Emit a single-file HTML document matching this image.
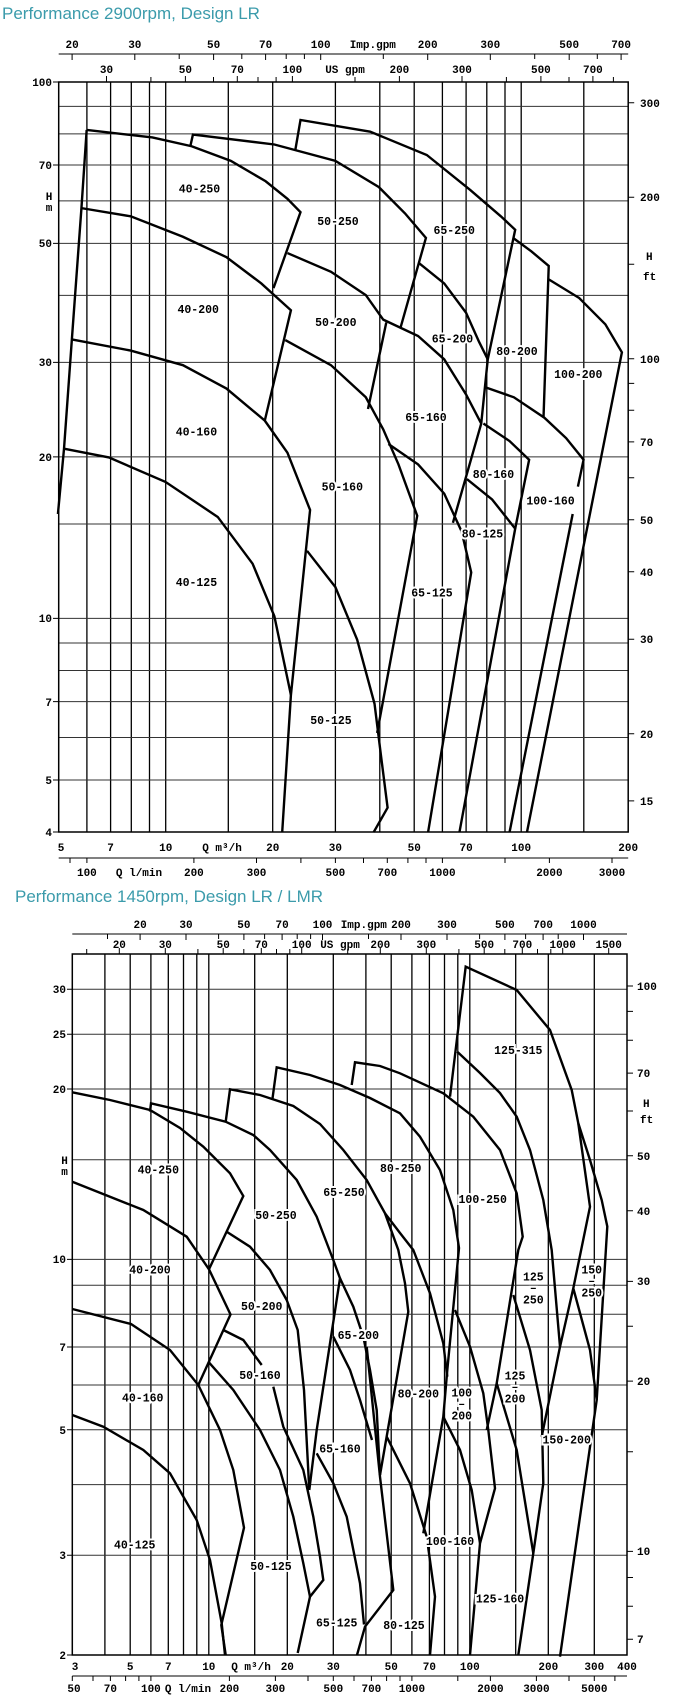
<!DOCTYPE html>
<html><head><meta charset="utf-8"><style>
html,body{margin:0;padding:0;background:#fff;}
svg{display:block;}
.t{font-family:"Liberation Mono",monospace;font-weight:bold;font-size:11px;fill:#000;}
.l{font-family:"Liberation Mono",monospace;font-weight:bold;font-size:11.5px;fill:#000;stroke:#fff;stroke-width:4px;paint-order:stroke;text-anchor:middle;dominant-baseline:central;}
.ttl{font-family:"Liberation Sans",sans-serif;font-size:17px;fill:#3b9bab;}
.gv{stroke:#000;stroke-width:1.3;}
.gh{stroke:#333;stroke-width:1;}
.c{fill:none;stroke:#000;stroke-width:2.4;stroke-linejoin:miter;vector-effect:non-scaling-stroke;}
.c2{fill:none;stroke:#000;stroke-width:2.4;stroke-linejoin:miter;}
</style></head><body>
<svg width="685" height="1701" viewBox="0 0 685 1701" xmlns="http://www.w3.org/2000/svg">
<text class="ttl" x="2" y="19">Performance 2900rpm, Design LR</text>
<text class="ttl" x="15" y="902">Performance 1450rpm, Design LR / LMR</text>

<!-- ============ CHART 1 ============ -->
<g>
<path class="gv" d="M86.9 82V832M110.6 82V832M131.3 82V832M149.5 82V832M165.7 82V832M228.3 82V832M272.7 82V832M335.4 82V832M379.8 82V832M414.2 82V832M442.4 82V832M466.1 82V832M486.8 82V832M505 82V832M521.2 82V832M583.8 82V832"/>
<path class="gh" d="M58.7 106.4H628.2M58.7 133.9H628.2M58.7 165H628.2M58.7 200.9H628.2M58.7 243.4H628.2M58.7 295.4H628.2M58.7 362.4H628.2M58.7 456.9H628.2M58.7 524H628.2M58.7 618.4H628.2M58.7 643H628.2M58.7 670.5H628.2M58.7 701.6H628.2M58.7 737.5H628.2M58.7 780H628.2"/>
<rect x="58.7" y="82" width="569.5" height="750" fill="none" stroke="#000" stroke-width="1.5"/>
<!-- left ticks -->
<path stroke="#000" stroke-width="1" d="M53 82H58.7M53 165H58.7M53 243.4H58.7M53 362.4H58.7M53 456.9H58.7M53 618.4H58.7M53 701.6H58.7M53 780H58.7M53 832H58.7"/>
<g class="t" text-anchor="end">
<text x="52" y="86">100</text><text x="52" y="169">70</text><text x="52" y="247">50</text><text x="52" y="366">30</text><text x="52" y="461">20</text><text x="52" y="622">10</text><text x="52" y="706">7</text><text x="52" y="784">5</text><text x="52" y="836">4</text>
</g>
<text class="t" x="49" y="200" text-anchor="middle">H</text><text class="t" x="49" y="211" text-anchor="middle">m</text>
<!-- right ticks -->
<path stroke="#000" stroke-width="1" d="M628.2 102.7h6M628.2 197.2h6M628.2 264.3h6M628.2 358.7h6M628.2 383.4h6M628.2 410.2h6M628.2 441.9h6M628.2 477.8h6M628.2 519.8h6M628.2 571.8h6M628.2 639.3h6M628.2 733.7h6M628.2 800.9h6"/>
<g class="t">
<text x="640" y="107">300</text><text x="640" y="201">200</text><text x="640" y="363">100</text><text x="640" y="446">70</text><text x="640" y="524">50</text><text x="640" y="576">40</text><text x="640" y="643">30</text><text x="640" y="738">20</text><text x="640" y="805">15</text>
<text x="646" y="260">H</text><text x="643" y="280">ft</text>
</g>
<!-- top axes -->
<path stroke="#000" stroke-width="1" d="M58.7 54H628.2M72.1 54v6M134.8 54v6M179.2 54v5M213.6 54v6M241.8 54v5M265.6 54v6M286.2 54v5M304.4 54v5M320.7 54v6M383.3 54v5M427.7 54v6M490.3 54v6M534.7 54v5M569.2 54v6M597.3 54v5M621.1 54v6"/>
<path stroke="#000" stroke-width="1" d="M106.5 82v-6M150.9 82v-5M185.4 82v-6M213.5 82v-5M237.3 82v-6M258 82v-5M276.1 82v-5M292.4 82v-6M355 82v-5M399.4 82v-6M462 82v-6M506.4 82v-5M540.9 82v-6M569 82v-5M592.9 82v-6M613.4 82v-5"/>
<g class="t" text-anchor="middle">
<text x="72.1" y="48">20</text><text x="134.8" y="48">30</text><text x="213.6" y="48">50</text><text x="265.6" y="48">70</text><text x="320.7" y="48">100</text><text x="372.8" y="48">Imp.gpm</text><text x="427.7" y="48">200</text><text x="490.3" y="48">300</text><text x="569.2" y="48">500</text><text x="621.1" y="48">700</text>
<text x="106.5" y="73">30</text><text x="185.4" y="73">50</text><text x="237.3" y="73">70</text><text x="292.4" y="73">100</text><text x="345" y="73">US gpm</text><text x="399.4" y="73">200</text><text x="462" y="73">300</text><text x="540.9" y="73">500</text><text x="592.9" y="73">700</text>
</g>
<!-- bottom axes -->
<g class="t" text-anchor="middle">
<text x="61" y="851">5</text><text x="110.6" y="851">7</text><text x="165.7" y="851">10</text><text x="222" y="851">Q m³/h</text><text x="272.7" y="851">20</text><text x="335.4" y="851">30</text><text x="414.2" y="851">50</text><text x="466.1" y="851">70</text><text x="521.2" y="851">100</text><text x="628.2" y="851">200</text>
</g>
<path stroke="#000" stroke-width="1" d="M58.7 858H628.2M70 858v5M86.9 858v5M193.9 858v5M256.5 858v5M300.9 858v5M335.4 858v5M363.5 858v5M387.3 858v5M407.9 858v5M426 858v5M442.4 858v5M505 858v5M549.4 858v5M612 858v5"/>
<g class="t" text-anchor="middle">
<text x="86.9" y="876">100</text><text x="139" y="876">Q l/min</text><text x="193.9" y="876">200</text><text x="256.5" y="876">300</text><text x="335.4" y="876">500</text><text x="387.3" y="876">700</text><text x="442.4" y="876">1000</text><text x="549.4" y="876">2000</text><text x="612" y="876">3000</text>
</g>
<!-- curves (zoom coords) -->
<g transform="matrix(0.4355,0,0,0.5838,0,-14.3)">
<polyline class="c" points="133,905 147,793 165,606 187,381 199,247"/>
<polyline class="c" points="199,247 350,260 440,275 530,300 610,335 660,365 690,388 628,518"/>
<polyline class="c" points="437,275 443,255 630,272 770,300 870,345 930,390 978,432 920,585"/>
<polyline class="c" points="678,282 690,230 850,250 980,290 1080,350 1150,395 1183,418 1120,640 1105,750 1040,920"/>
<polyline class="c" points="187,381 300,395 420,430 520,465 600,510 668,556 608,745"/>
<polyline class="c" points="660,458 760,490 840,530 880,572 960,600 1020,640 1070,700 1105,750"/>
<polyline class="c" points="887,577 845,725"/>
<polyline class="c" points="962,475 1020,510 1070,560 1100,610 1120,640"/>
<polyline class="c" points="1178,432 1220,455 1260,480 1248,740"/>
<polyline class="c" points="1260,503 1330,535 1390,580 1428,628 1210,1450"/>
<polyline class="c" points="165,606 300,625 420,650 520,690 608,745 660,800 712,898 668,1215 648,1450"/>
<polyline class="c" points="147,793 250,808 380,850 500,910 580,990 630,1080 668,1215"/>
<polyline class="c" points="655,607 760,650 840,705 880,760 915,820 958,908 866,1280"/>
<polyline class="c" points="705,968 770,1030 820,1120 860,1230 875,1320 890,1408 858,1450"/>
<polyline class="c" points="892,785 960,820 1020,870 1060,935 1082,1005 983,1450"/>
<polyline class="c" points="1110,750 1170,780 1215,812 1183,930"/>
<polyline class="c" points="1072,845 1130,880 1183,930 1055,1450"/>
<polyline class="c" points="1115,688 1180,705 1250,740 1300,775 1340,812 1327,858"/>
<polyline class="c" points="1315,905 1170,1450"/>
</g>
<g>
<text class="l" x="199.5" y="190">40-250</text><text class="l" x="338" y="222.7">50-250</text><text class="l" x="454.2" y="231.5">65-250</text>
<text class="l" x="198.2" y="310.3">40-200</text><text class="l" x="335.8" y="323.7">50-200</text><text class="l" x="452.5" y="340.1">65-200</text><text class="l" x="517" y="352.3">80-200</text><text class="l" x="578.3" y="375.7">100-200</text>
<text class="l" x="426" y="418.3">65-160</text><text class="l" x="196.4" y="432.9">40-160</text><text class="l" x="493.4" y="475.5">80-160</text><text class="l" x="342.3" y="487.8">50-160</text><text class="l" x="550.5" y="501.8">100-160</text>
<text class="l" x="482.5" y="535">80-125</text><text class="l" x="196.4" y="583.5">40-125</text><text class="l" x="432" y="594">65-125</text><text class="l" x="331" y="721.3">50-125</text>
</g>
</g>

<!-- ============ CHART 2 ============ -->
<g>
<path class="gv" d="M104.9 954V1655M130.2 954V1655M150.9 954V1655M168.3 954V1655M183.5 954V1655M196.8 954V1655M208.8 954V1655M254.7 954V1655M287.3 954V1655M333.3 954V1655M365.9 954V1655M391.2 954V1655M411.9 954V1655M429.4 954V1655M444.5 954V1655M457.8 954V1655M469.8 954V1655M515.7 954V1655M548.3 954V1655M594.3 954V1655"/>
<path class="gh" d="M72.3 1555.3H627M72.3 1484.6H627M72.3 1429.7H627M72.3 1385H627M72.3 1347H627M72.3 1314.3H627M72.3 1285.3H627M72.3 1259.4H627M72.3 1159.8H627M72.3 1089H627M72.3 1034.2H627M72.3 989.3H627"/>
<rect x="72.3" y="954" width="554.7" height="701" fill="none" stroke="#000" stroke-width="1.5"/>
<path stroke="#000" stroke-width="1" d="M67 989.3h5.3M67 1034.2h5.3M67 1089h5.3M67 1259.4h5.3M67 1347h5.3M67 1429.7h5.3M67 1555.3h5.3M67 1655h5.3"/>
<g class="t" text-anchor="end">
<text x="66" y="993">30</text><text x="66" y="1038">25</text><text x="66" y="1093">20</text><text x="66" y="1263">10</text><text x="66" y="1351">7</text><text x="66" y="1434">5</text><text x="66" y="1559">3</text><text x="66" y="1659">2</text>
</g>
<text class="t" x="64.5" y="1164" text-anchor="middle">H</text><text class="t" x="64.5" y="1175" text-anchor="middle">m</text>
<path stroke="#000" stroke-width="1" d="M627 986h6M627 1011.4h6M627 1040.3h6M627 1073.1h6M627 1111h6M627 1155.8h6M627 1210.7h6M627 1281.4h6M627 1326.2h6M627 1381.1h6M627 1451.8h6M627 1551.4h6M627 1577.5h6M627 1606.3h6M627 1639.2h6"/>
<g class="t">
<text x="637" y="990">100</text><text x="637" y="1077">70</text><text x="637" y="1160">50</text><text x="637" y="1215">40</text><text x="637" y="1285">30</text><text x="637" y="1385">20</text><text x="637" y="1555">10</text><text x="637" y="1643">7</text>
<text x="643" y="1107">H</text><text x="640" y="1123">ft</text>
</g>
<path stroke="#000" stroke-width="1" d="M72.3 934H627M107.5 934v5M140.1 934v6M186 934v6M218.6 934v5M243.9 934v6M264.6 934v5M282.1 934v6M297.2 934v5M310.6 934v5M322.5 934v6M368.5 934v5M401 934v6M447 934v6M479.6 934v5M504.9 934v6M525.6 934v5M543.1 934v6M558.2 934v5M583.5 934v6"/>
<path stroke="#000" stroke-width="1" d="M86.7 954v-5M119.3 954v-6M165.3 954v-6M197.9 954v-5M223.2 954v-6M243.8 954v-5M261.3 954v-6M276.5 954v-5M289.8 954v-5M301.7 954v-6M347.7 954v-5M380.3 954v-6M426.3 954v-6M458.9 954v-5M484.2 954v-6M504.8 954v-5M522.3 954v-6M537.5 954v-5M550.8 954v-5M562.7 954v-6M608.7 954v-6"/>
<g class="t" text-anchor="middle">
<text x="140.1" y="928">20</text><text x="186" y="928">30</text><text x="243.9" y="928">50</text><text x="282.1" y="928">70</text><text x="322.5" y="928">100</text><text x="363.8" y="928">Imp.gpm</text><text x="401" y="928">200</text><text x="447" y="928">300</text><text x="504.9" y="928">500</text><text x="543.1" y="928">700</text><text x="583.5" y="928">1000</text>
<text x="119.3" y="948">20</text><text x="165.3" y="948">30</text><text x="223.2" y="948">50</text><text x="261.3" y="948">70</text><text x="301.7" y="948">100</text><text x="340" y="948">US gpm</text><text x="380.3" y="948">200</text><text x="426.3" y="948">300</text><text x="484.2" y="948">500</text><text x="522.3" y="948">700</text><text x="562.7" y="948">1000</text><text x="608.7" y="948">1500</text>
</g>
<g class="t" text-anchor="middle">
<text x="75" y="1670">3</text><text x="130.2" y="1670">5</text><text x="168.3" y="1670">7</text><text x="208.8" y="1670">10</text><text x="251" y="1670">Q m³/h</text><text x="287.3" y="1670">20</text><text x="333.3" y="1670">30</text><text x="391.2" y="1670">50</text><text x="429.4" y="1670">70</text><text x="469.8" y="1670">100</text><text x="548.3" y="1670">200</text><text x="594.3" y="1670">300</text><text x="627" y="1670">400</text>
</g>
<path stroke="#000" stroke-width="1" d="M72.3 1676H627M72.3 1676v5M93 1676v5M110.4 1676v5M125.6 1676v5M138.9 1676v5M150.9 1676v5M229.4 1676v5M275.4 1676v5M308 1676v5M333.3 1676v5M354 1676v5M371.4 1676v5M386.6 1676v5M400 1676v5M411.9 1676v5M457.8 1676v5M490.4 1676v5M536.4 1676v5M569 1676v5M594.3 1676v5M614.9 1676v5"/>
<g class="t" text-anchor="middle">
<text x="74" y="1692">50</text><text x="110.4" y="1692">70</text><text x="150.9" y="1692">100</text><text x="188" y="1692">Q l/min</text><text x="229.4" y="1692">200</text><text x="275.4" y="1692">300</text><text x="333.3" y="1692">500</text><text x="371.4" y="1692">700</text><text x="411.9" y="1692">1000</text><text x="490.4" y="1692">2000</text><text x="536.4" y="1692">3000</text><text x="594.3" y="1692">5000</text>
</g>
<!-- curves -->
<g>
<polyline class="c2" points="72.3,1092.3 110,1100 150,1110 180,1128 203.3,1146.7 230,1173.3 243.3,1196 209,1269.3"/>
<polyline class="c2" points="72.3,1181.7 143.3,1210 186.7,1236.7 209,1269.3 230.5,1314.5 198.3,1385"/>
<polyline class="c2" points="72.3,1309 131,1324 170,1350 198.3,1385 220,1430 233.3,1470 244,1527.7 221.3,1625 225.7,1655"/>
<polyline class="c2" points="72.3,1415 103.3,1426.7 143.3,1450 170,1473.3 196.7,1520 210,1560 221.7,1623.3 225,1655"/>
<polyline class="c2" points="150,1111.7 151,1103.3 186.7,1111.7 225.7,1121.7 253.3,1135 270,1150 296.7,1180 316.7,1216.7 333.3,1260 340,1278.3 316.7,1430 309.3,1490"/>
<polyline class="c2" points="226.7,1231.7 250,1246.7 270,1270 286.7,1300 297.7,1330 304,1390 309.3,1490"/>
<polyline class="c2" points="223.3,1330 243.3,1340 261.7,1365"/>
<polyline class="c2" points="273.3,1386.7 283.3,1426.7 303.3,1470 313.3,1516.7 320,1556.7 323.3,1580 310,1596.7 297.7,1653"/>
<polyline class="c2" points="208.3,1361.7 233.3,1390 260,1430 280,1470 293.3,1516.7 303.3,1563.3 310,1596.7"/>
<polyline class="c2" points="225.7,1121.7 230,1089.3 260,1095 293.3,1106 320,1124 343.3,1150 366.7,1180 385,1213.3 398.3,1250 405,1283.3 408.3,1311.7 380,1475"/>
<polyline class="c2" points="272.3,1100 276.7,1067.3 310,1075 340,1085 370,1098 400,1113.3 420,1136.7 440,1170 453.3,1210 459,1248 447.3,1370 443.3,1416.7 423.3,1533.3"/>
<polyline class="c2" points="351.7,1085 355,1062.3 380,1066 400,1073.3 443.3,1093.3 473.3,1116.7 500,1150 516.7,1193.3 522.7,1236.7 518.3,1250 496.7,1383.3 486.7,1430"/>
<polyline class="c2" points="450,1096.7 465.7,966.7 516.7,990 550,1030 571.7,1090 578.3,1123.3 590,1206.7 573.3,1288.3 560,1346.7 541.7,1436.7"/>
<polyline class="c2" points="457.3,1051.7 480,1073 500,1093 516.7,1116.7 530,1150 543.3,1200 551.7,1250 560,1346.7"/>
<polyline class="c2" points="578.3,1123.3 590,1160 601.7,1200 607.3,1226.5 596.7,1400 560,1656.7"/>
<polyline class="c2" points="573.3,1288.3 590,1350 596.7,1400"/>
<polyline class="c2" points="513.3,1295 530,1350 541.7,1410 543.3,1483.3 533.3,1553.3 518.3,1655"/>
<polyline class="c2" points="496.7,1383.3 516.7,1450 533.3,1553.3"/>
<polyline class="c2" points="455,1310 470,1346.7 483.3,1393.3 488.3,1430 495,1488.3 480,1543.3 470,1655"/>
<polyline class="c2" points="443.3,1416.7 460,1450 471.7,1490 480,1543.3"/>
<polyline class="c2" points="385,1213.3 400,1233 413.3,1250 430,1293.3 443.3,1343.3 447.3,1376.7"/>
<polyline class="c2" points="340,1278.3 353.3,1306.7 363.3,1336.7 370,1370 376.7,1410 380,1475"/>
<polyline class="c2" points="333.3,1336.7 350,1370 360,1400 372,1440"/>
<polyline class="c2" points="366.7,1346.7 380,1476.7 393.3,1590 365,1626.7 357,1655"/>
<polyline class="c2" points="316.7,1453.3 333.3,1483.3 346.7,1516.7 360,1583.3 364,1624.5"/>
<polyline class="c2" points="386.7,1436.7 410,1483.3 426.7,1536.7 435,1596.7 430,1655"/>
</g>
<g>
<text class="l" x="158.3" y="1171">40-250</text><text class="l" x="276" y="1216.7">50-250</text><text class="l" x="344" y="1193.3">65-250</text><text class="l" x="400.7" y="1169.3">80-250</text><text class="l" x="482.7" y="1200.7">100-250</text><text class="l" x="518.3" y="1051.7">125-315</text>
<text class="l" x="150" y="1271">40-200</text><text class="l" x="261.7" y="1307.3">50-200</text><text class="l" x="358.3" y="1336.7">65-200</text><text class="l" x="142.7" y="1399">40-160</text><text class="l" x="260" y="1376.7">50-160</text><text class="l" x="340" y="1450">65-160</text><text class="l" x="418.3" y="1395">80-200</text>
<text class="l" x="461.7" y="1394">100</text><text class="l" x="461.7" y="1405">–</text><text class="l" x="461.7" y="1417">200</text>
<text class="l" x="533.3" y="1278">125</text><text class="l" x="533.3" y="1289">–</text><text class="l" x="533.3" y="1301">250</text>
<text class="l" x="591.7" y="1271">150</text><text class="l" x="591.7" y="1282">–</text><text class="l" x="591.7" y="1294">250</text>
<text class="l" x="515" y="1377">125</text><text class="l" x="515" y="1388">–</text><text class="l" x="515" y="1400">200</text>
<text class="l" x="566.7" y="1441">150-200</text><text class="l" x="450" y="1542.3">100-160</text><text class="l" x="500" y="1600">125-160</text><text class="l" x="404" y="1626.7">80-125</text><text class="l" x="134.7" y="1546">40-125</text><text class="l" x="271" y="1567.3">50-125</text><text class="l" x="336.7" y="1624">65-125</text>
</g>
</g>
</svg>
</body></html>
